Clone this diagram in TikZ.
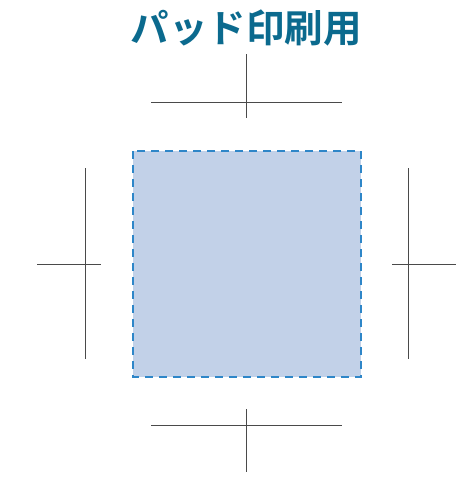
\documentclass[tikz,border=0pt]{standalone}
\usepackage{fontspec}
\newfontfamily\cjk{Noto Sans CJK JP Bold}
\definecolor{titlecol}{HTML}{0B6A8E}
\definecolor{padfill}{HTML}{C2D1E8}
\definecolor{padline}{HTML}{2E86C8}
\definecolor{markcol}{HTML}{4A4A4A}
\begin{document}
\begin{tikzpicture}[x=1pt,y=-1pt,
  mark line/.style={draw=markcol, line width=0.9pt},
  pad area/.style={fill=padfill, draw=padline, line width=1.3pt, dash pattern=on 8pt off 6pt}]
\useasboundingbox (0,0) rectangle (458,482);

%titolo
\node[text=titlecol, font=\cjk\fontsize{38.5}{38.5}\selectfont] (Title) at (246,28) {パッド印刷用};

%area di stampa
\draw[pad area] (133,151) rectangle (361,377);

%croce in alto
\draw[mark line] (151,102) -- (342,102);
\draw[mark line] (246,54) -- (246,118);

%croce a sinistra
\draw[mark line] (85,168) -- (85,359);
\draw[mark line] (37,264) -- (101,264);

%croce a destra
\draw[mark line] (408,168) -- (408,359);
\draw[mark line] (392,264) -- (456,264);

%croce in basso
\draw[mark line] (151,425) -- (342,425);
\draw[mark line] (246,409) -- (246,472);

\end{tikzpicture}
\end{document}
